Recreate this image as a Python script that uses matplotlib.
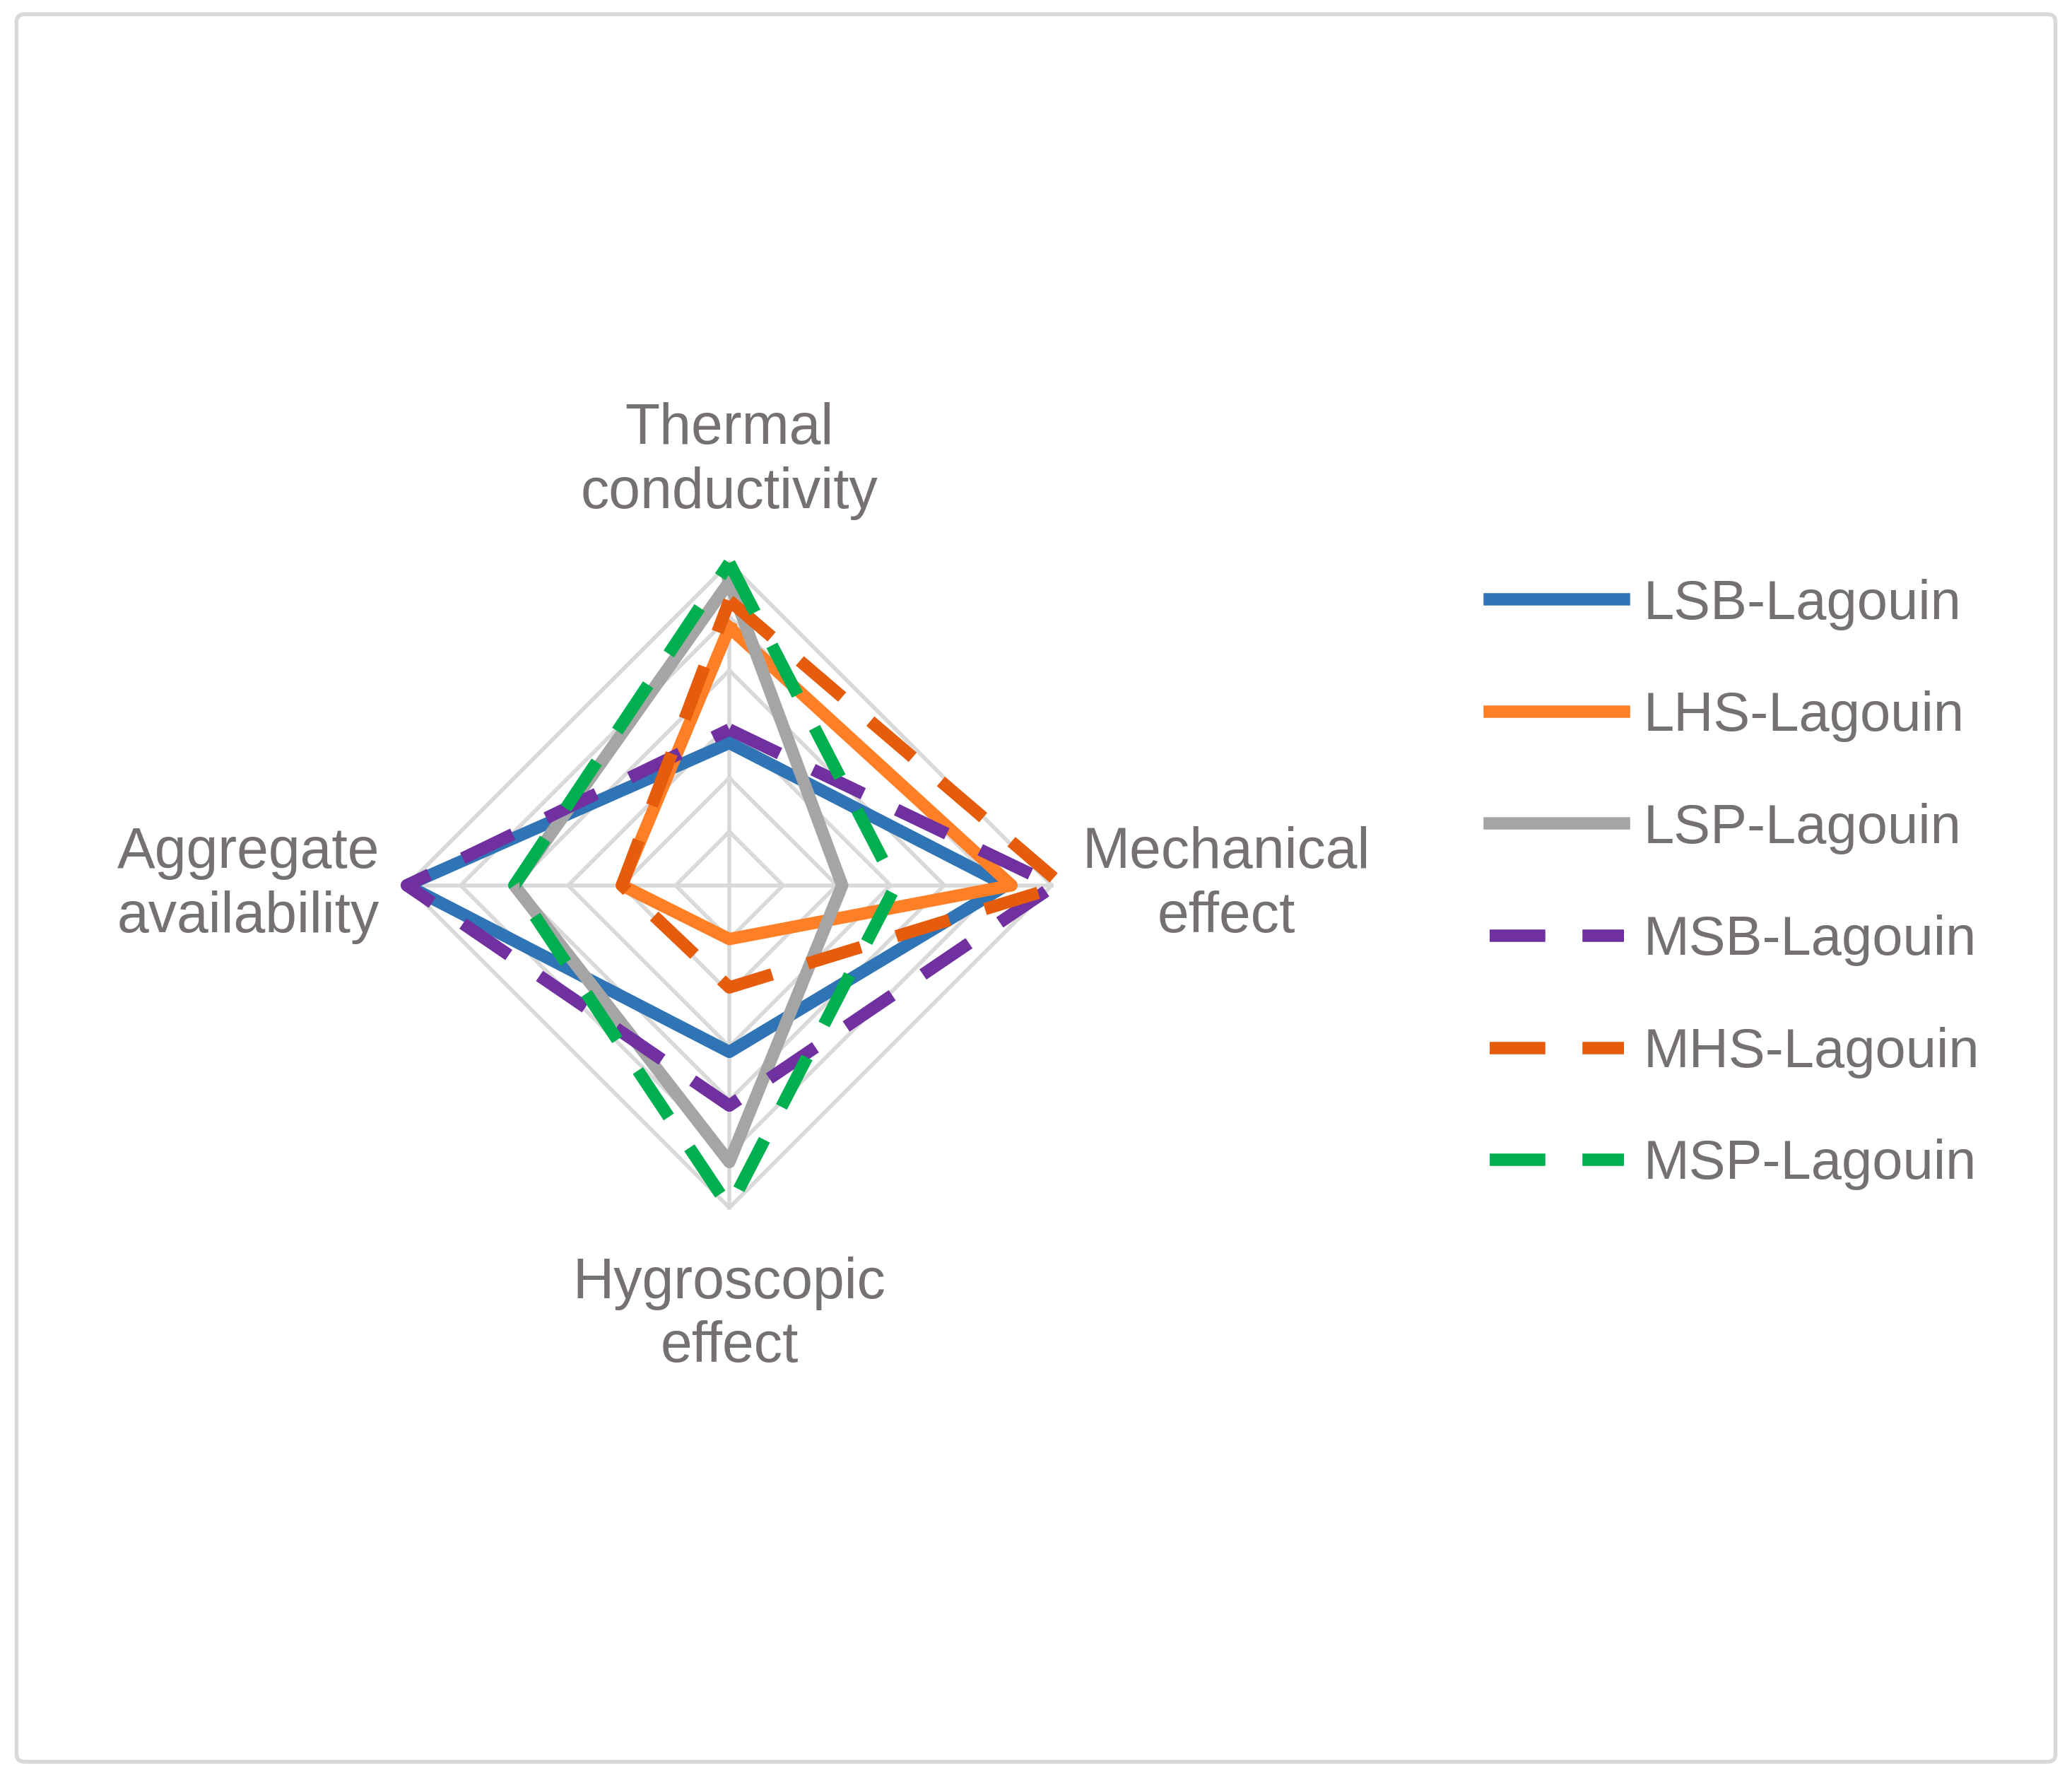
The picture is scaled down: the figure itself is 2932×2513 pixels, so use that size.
import numpy as np
import matplotlib.pyplot as plt
from matplotlib.patches import FancyBboxPatch

# axes order: top, right, bottom, left
categories = ['Thermal\nconductivity', 'Mechanical\neffect', 'Hygroscopic\neffect', 'Aggregate\navailability']
series = ['LSB-Lagouin', 'LHS-Lagouin', 'LSP-Lagouin', 'MSB-Lagouin', 'MHS-Lagouin', 'MSP-Lagouin']
values = {
    'LSB-Lagouin': [2.65, 5.15, 3.1, 6.0],
    'LHS-Lagouin': [4.8, 5.25, 1.0, 2.0],
    'LSP-Lagouin': [5.65, 2.1, 5.15, 4.0],
    'MSB-Lagouin': [2.9, 6.05, 4.1, 6.0],
    'MHS-Lagouin': [5.3, 6.2, 1.9, 2.0],
    'MSP-Lagouin': [6.0, 3.1, 6.0, 4.0],
}
colors = ['#2f75b5', '#ff7f27', '#a5a5a5', '#7030a0', '#e55c0c', '#00b050']
styles = ['-', '-', '-', '--', '--', '--']
levels = [1, 2, 3, 4, 5, 6]

ang = np.pi / 2 - np.arange(4) * np.pi / 2
ca, sa = np.cos(ang), np.sin(ang)

fig = plt.figure(figsize=(14.66, 12.565), dpi=200)
fig.patches.append(FancyBboxPatch((0.008, 0.008), 0.984, 0.984, boxstyle='round,pad=0,rounding_size=0.004',
                                  transform=fig.transFigure, fill=False, edgecolor='#d9d9d9', linewidth=2))
ax = fig.add_axes([0.1445, 0.2595, 0.415, 0.484])
ax.set_xlim(-8, 8)
ax.set_ylim(-8, 8)
ax.axis('off')

for lv in levels:
    ax.plot(np.append(lv * ca, lv * ca[0]), np.append(lv * sa, lv * sa[0]), color='#d9d9d9', lw=2, zorder=1)
for i in range(4):
    ax.plot([0, 6 * ca[i]], [0, 6 * sa[i]], color='#d9d9d9', lw=2, zorder=1)

for name, c, ls in zip(series, colors, styles):
    v = np.array(values[name])
    x, y = v * ca, v * sa
    ax.plot(np.append(x, x[0]), np.append(y, y[0]), color=c, ls=ls, lw=6.3, label=name,
            dashes=(4.5, 3) if ls == '--' else (None, None), clip_on=False, zorder=3)

lab_r = [7.9, 9.25, 8.0, 8.95]
for i, t in enumerate(categories):
    ax.text(lab_r[i] * ca[i], lab_r[i] * sa[i], t, ha='center', va='center', fontsize=29,
            color='#767171', linespacing=1.25, family='Liberation Sans')

leg = fig.legend(loc='center left', bbox_to_anchor=(0.695, 0.502), frameon=False,
                 handlelength=2.45, handletextpad=0.35, labelspacing=1.1,
                 prop={'family': 'Liberation Sans', 'size': 28})
for t in leg.get_texts():
    t.set_color('#767171')

fig.savefig('out.png', dpi=200)
